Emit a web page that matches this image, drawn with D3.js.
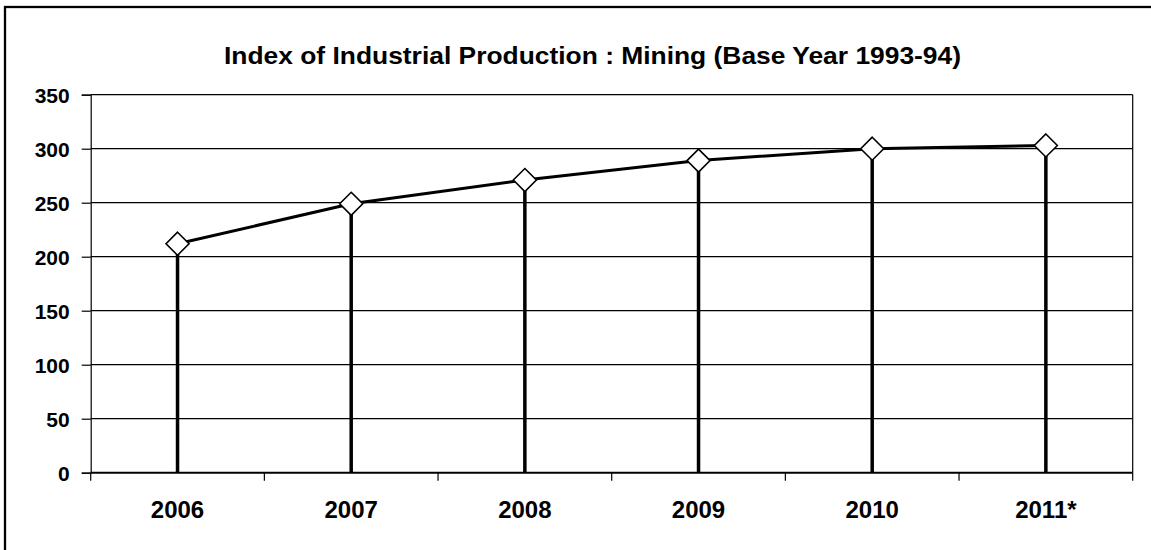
<!DOCTYPE html>
<html>
<head>
<meta charset="utf-8">
<script src="https://cdn.jsdelivr.net/npm/d3@7"></script>
<style>
  html, body { margin: 0; padding: 0; background: #fff; }
  svg { display: block; }
  text { font-family: Arial, "Liberation Sans", sans-serif; font-weight: bold; fill: #000; }
</style>
</head>
<body>
<svg id="chart" width="1151" height="550"></svg>
<script>
const categories = ["2006", "2007", "2008", "2009", "2010", "2011*"];
const values = [212, 249, 271, 289, 300, 303];
const yTicks = [0, 50, 100, 150, 200, 250, 300, 350];
const titleText = "Index of Industrial Production : Mining (Base Year 1993-94)";

const svg = d3.select("#chart");
const W = 1151, H = 550;
const plot = { left: 90.7, right: 1132.7, top: 94.7, bottom: 472.7 };

// outer chart border (right/bottom extend beyond the picture)
svg.append("rect")
  .attr("x", 5).attr("y", 7)
  .attr("width", W + 20).attr("height", H + 20)
  .attr("fill", "#fff").attr("stroke", "#000").attr("stroke-width", 2.3);

const x = d3.scaleBand().domain(categories).range([plot.left, plot.right]).padding(0);
const y = d3.scaleLinear().domain([0, 350]).range([plot.bottom, plot.top]);

// gridlines
svg.append("g").selectAll("line").data(yTicks.filter(d => d > 0)).join("line")
  .attr("x1", plot.left).attr("x2", plot.right)
  .attr("y1", d => y(d)).attr("y2", d => y(d))
  .attr("stroke", "#000").attr("stroke-width", 1.2);

// right border of plot area
svg.append("line")
  .attr("x1", plot.right).attr("x2", plot.right)
  .attr("y1", plot.top).attr("y2", plot.bottom)
  .attr("stroke", "#000").attr("stroke-width", 1.2);

// y axis
const yAxis = d3.axisLeft(y).tickValues(yTicks).tickSize(9).tickPadding(12);
const gy = svg.append("g").attr("transform", `translate(${plot.left},0)`).call(yAxis);
gy.select(".domain").attr("stroke", "#000").attr("stroke-width", 1.2);
gy.selectAll(".tick line").attr("stroke", "#000").attr("stroke-width", 1.2);
gy.selectAll(".tick text").attr("font-size", 21).attr("font-family", "Arial, 'Liberation Sans', sans-serif").attr("font-weight", "bold").attr("fill", "#000").attr("dy", "0.36em");

// x axis: ticks at band boundaries
const gx = svg.append("g").attr("transform", `translate(0,${plot.bottom})`);
const bounds = categories.map(c => x(c)).concat([x(categories[categories.length - 1]) + x.bandwidth()]);
gx.append("line").attr("x1", plot.left).attr("x2", plot.right).attr("y1", 0).attr("y2", 0)
  .attr("stroke", "#000").attr("stroke-width", 2);
gx.selectAll("line.tk").data(bounds).join("line").attr("class", "tk")
  .attr("x1", d => d).attr("x2", d => d).attr("y1", 0).attr("y2", 8)
  .attr("stroke", "#000").attr("stroke-width", 1.2);
gx.selectAll("text").data(categories).join("text")
  .attr("x", d => x(d) + x.bandwidth() / 2).attr("y", 45.5)
  .attr("text-anchor", "middle").attr("font-size", 24)
  .text(d => d);

const data = categories.map((c, i) => ({ c, v: values[i], cx: x(c) + x.bandwidth() / 2 }));

// drop lines
svg.append("g").selectAll("line").data(data).join("line")
  .attr("x1", d => d.cx).attr("x2", d => d.cx)
  .attr("y1", d => y(d.v)).attr("y2", plot.bottom)
  .attr("stroke", "#000").attr("stroke-width", 3.5);

// series line
svg.append("path").datum(data)
  .attr("d", d3.line().x(d => d.cx).y(d => y(d.v)))
  .attr("fill", "none").attr("stroke", "#000").attr("stroke-width", 3);

// diamond markers
const r = 11.5;
svg.append("g").selectAll("path").data(data).join("path")
  .attr("d", d => `M${d.cx},${y(d.v) - r}L${d.cx + r},${y(d.v)}L${d.cx},${y(d.v) + r}L${d.cx - r},${y(d.v)}Z`)
  .attr("fill", "#fff").attr("stroke", "#000").attr("stroke-width", 1.6);

// title
svg.append("text")
  .attr("x", 224).attr("y", 63.5)
  .attr("text-anchor", "start").attr("font-size", 24)
  .attr("textLength", 737).attr("lengthAdjust", "spacingAndGlyphs")
  .text(titleText);
</script>
</body>
</html>
